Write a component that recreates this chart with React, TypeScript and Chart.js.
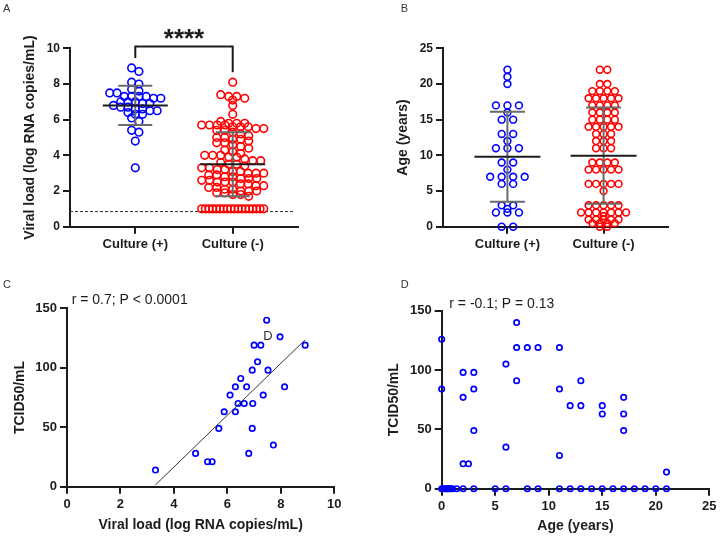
import React, { useEffect, useRef } from 'react';
import { Chart, registerables } from 'chart.js';

Chart.register(...registerables);

const FONT = "'Liberation Sans', Arial, Helvetica, sans-serif";
const INK = '#1c1c1c';
const BLUE = '#0000ff';
const RED = '#ff0000';

// ---------------- Data ----------------
const groupLabels = ['Culture (+)', 'Culture (-)'];

// Panel A: viral load (log RNA copies/mL)
const viralLoadCulturePos = [8.9, 8.7, 8.1, 8.0, 7.7, 7.6, 7.5, 7.5, 7.3, 7.3, 7.3, 7.3, 7.2, 7.2, 7.0, 7.0, 7.0, 6.9, 6.9, 6.8, 6.7, 6.7, 6.6, 6.6, 6.5, 6.5, 6.4, 6.3, 6.3, 6.1, 5.9, 5.4, 5.3, 4.8, 3.3];
const viralLoadCultureNeg = [
  8.1, 7.4, 7.3, 7.3, 7.2, 7.1, 6.8, 6.3,
  5.9, 5.8, 5.8, 5.8, 5.7, 5.7, 5.7, 5.7, 5.6, 5.6, 5.6, 5.5, 5.5, 5.4, 5.4, 5.3,
  5.2, 5.1, 5.0, 5.0, 4.9, 4.9, 4.8, 4.7, 4.7, 4.6, 4.5, 4.4, 4.3, 4.2,
  4.1, 4.0, 4.0, 4.0, 3.9, 3.9, 3.8, 3.7, 3.7, 3.6, 3.5, 3.5, 3.4, 3.3, 3.3,
  3.2, 3.2, 3.1, 3.1, 3.0, 3.0, 3.0, 2.9, 2.9, 2.8, 2.8, 2.7, 2.7, 2.7, 2.6, 2.6, 2.5, 2.5, 2.5, 2.4, 2.4,
  2.3, 2.3, 2.2, 2.2, 2.1, 2.1, 2.0, 2.0, 2.0, 1.9, 1.9, 1.8, 1.8, 1.7,
  1.0, 1.0, 1.0, 1.0, 1.0, 1.0, 1.0, 1.0, 1.0, 1.0, 1.0, 1.0, 1.0, 1.0, 1.0, 1.0, 1.0, 1.0,
];
const viralLoadMean = [6.8, 3.5];
const viralLoadSD = [1.1, 1.8];
const viralLoadDetectionLimit = 0.85;
const bracketLevel = 10.1;
const significanceLabel = '****';

// Panel B: age (years)
const ageCulturePos = [22, 21, 20, 17, 17, 17, 16, 15, 15, 13, 13, 12, 11, 11, 11, 9, 9, 8, 7, 7, 7, 7, 6, 6, 3, 3, 2.5, 2, 2, 2, 0, 0];
const ageCultureNeg = [
  22, 22, 20, 20, 19, 19, 19, 19, 18, 18, 18, 18, 18, 17, 17, 17, 17, 16, 16, 16, 16,
  15, 15, 15, 15, 14, 14, 14, 14, 14, 13, 13, 13, 12, 12, 12, 11, 11, 11,
  9, 9, 9, 9, 8, 8, 8, 8, 8, 6, 6, 6, 6, 6, 5, 3, 3, 3, 3, 3,
  2, 2, 2, 2, 2, 2, 2, 1.5, 1, 1, 1, 1, 1, 0.5, 0.5, 0.5, 0.5, 0, 0,
];
const ageMean = [9.8, 9.95];
const ageSD = [6.3, 6.75];

// Panel C: TCID50/mL vs viral load
const tcidViralLoad = [3.31, 4.81, 5.26, 5.43, 5.68, 5.88, 6.10, 6.30, 6.30, 6.40, 6.50, 6.63, 6.72, 6.80, 6.93, 6.93, 6.95, 7.00, 7.13, 7.25, 7.34, 7.47, 7.52, 7.72, 7.97, 8.14, 8.91];
const tcidByViralLoad = [14, 28, 21, 21, 49, 63, 77, 84, 63, 70, 91, 70, 84, 28, 98, 49, 70, 119, 105, 119, 77, 140, 98, 35, 126, 84, 119];
const corrTextViral = 'r = 0.7; P < 0.0001';
const strayLabel = { text: 'D', x: 7.34, y: 123 };

// Panel D: TCID50/mL vs age
const tcidAge = [
  0, 0, 2, 2, 2, 2.5, 3, 3, 3, 6, 6, 7, 7, 7, 8, 9, 11, 11, 11, 12, 13, 13, 15, 15, 17, 17, 17, 21,
  0, 0.1, 0.25, 0.4, 0.5, 0.6, 0.75, 0.9, 1.0, 1.4, 2, 3, 5, 6, 8, 9, 11, 12, 13, 14, 15, 16, 17, 18, 19, 20, 21,
];
const tcidByAge = [
  126, 84, 98, 77, 21, 21, 98, 84, 49, 105, 35, 140, 119, 91, 119, 119, 119, 84, 28, 70, 91, 70, 70, 63, 77, 63, 49, 14,
  0, 0, 0, 0, 0, 0, 0, 0, 0, 0, 0, 0, 0, 0, 0, 0, 0, 0, 0, 0, 0, 0, 0, 0, 0, 0, 0,
];
const corrTextAge = 'r = -0.1; P = 0.13';

// ---------------- Helpers ----------------
function fixAxis(size: number, vertical: boolean) {
  return (s: any) => {
    if (vertical) s.width = size;
    else s.height = size;
    s.paddingLeft = 0;
    s.paddingRight = 0;
    s.paddingTop = 0;
    s.paddingBottom = 0;
  };
}

function axisStyle(tickSize: number) {
  return {
    border: { display: true, color: INK, width: 2 },
    grid: {
      display: true,
      drawOnChartArea: false,
      drawTicks: true,
      tickLength: 7,
      tickColor: INK,
      tickWidth: 2,
      color: INK,
      lineWidth: 2,
    },
    ticks: {
      color: INK,
      font: { family: FONT, size: tickSize, weight: 'bold' },
      padding: 3,
      maxRotation: 0,
      autoSkip: false,
    },
  };
}

function text(ctx: CanvasRenderingContext2D, t: string, x: number, y: number, font: string, color: string, align: CanvasTextAlign = 'left') {
  ctx.save();
  ctx.font = font;
  ctx.fillStyle = color;
  ctx.textAlign = align;
  ctx.textBaseline = 'alphabetic';
  ctx.fillText(t, x, y);
  ctx.restore();
}

function drawMeanSD(chart: any, means: number[], sds: number[], meanHalf: number, capHalf: number) {
  const { ctx, scales } = chart;
  const x = scales.x, y = scales.y;
  ctx.save();
  means.forEach((m, i) => {
    const cx = x.getPixelForValue(i + 1);
    const top = y.getPixelForValue(m + sds[i]);
    const bot = y.getPixelForValue(m - sds[i]);
    const my = y.getPixelForValue(m);
    ctx.strokeStyle = '#6a6a6a';
    ctx.lineWidth = 2;
    ctx.beginPath();
    ctx.moveTo(cx, top); ctx.lineTo(cx, bot);
    ctx.moveTo(cx - capHalf, top); ctx.lineTo(cx + capHalf, top);
    ctx.moveTo(cx - capHalf, bot); ctx.lineTo(cx + capHalf, bot);
    ctx.stroke();
    ctx.strokeStyle = INK;
    ctx.beginPath();
    ctx.moveTo(cx - meanHalf, my); ctx.lineTo(cx + meanHalf, my);
    ctx.stroke();
  });
  ctx.restore();
}

// Column scatter: points binned in rows and spread symmetrically
const swarmPlugin = {
  id: 'swarm',
  afterDatasetsUpdate(chart: any) {
    chart.data.datasets.forEach((ds: any, di: number) => {
      const sw = ds.swarm;
      if (!sw) return;
      const meta = chart.getDatasetMeta(di);
      const bins = new Map<number, number[]>();
      ds.data.forEach((p: any, i: number) => {
        const k = Math.round(p.y / sw.bin);
        if (!bins.has(k)) bins.set(k, []);
        bins.get(k)!.push(i);
      });
      bins.forEach((idx) => {
        const n = idx.length;
        const s = n > 1 ? Math.min(sw.spacing, sw.maxWidth / (n - 1)) : 0;
        idx.forEach((i, j) => {
          const el = meta.data[i];
          if (el) el.x += (j - (n - 1) / 2) * s;
        });
      });
    });
  },
};

function columnDatasets(pos: number[], neg: number[], radius: number, bw: number, swPos: any, swNeg: any) {
  return [
    {
      data: pos.map((v) => ({ x: 1, y: v })),
      borderColor: BLUE, backgroundColor: 'rgba(0,0,0,0)', pointRadius: radius, pointBorderWidth: bw,
      clip: false, swarm: swPos,
    },
    {
      data: neg.map((v) => ({ x: 2, y: v })),
      borderColor: RED, backgroundColor: 'rgba(0,0,0,0)', pointRadius: radius, pointBorderWidth: bw,
      clip: false, swarm: swNeg,
    },
  ];
}

function baseOptions(padding: any, x: any, y: any) {
  return {
    responsive: false,
    animation: false,
    events: [],
    layout: { padding },
    plugins: { legend: { display: false }, tooltip: { enabled: false }, title: { display: false } },
    scales: { x, y },
  };
}

function categoryX(width: number) {
  const st = axisStyle(13);
  return {
    type: 'linear', min: 0.33, max: 2.67,
    ...st,
    ticks: { ...st.ticks, callback: (v: number) => groupLabels[Math.round(v) - 1] },
    afterBuildTicks: (s: any) => { s.ticks = [{ value: 1 }, { value: 2 }]; },
    afterFit: fixAxis(width, false),
  };
}

function letterPlugin(letter: string, x: number, y: number) {
  return {
    id: 'letter' + letter,
    afterDraw(chart: any) {
      text(chart.ctx, letter, x, y, `11px ${FONT}`, '#333333');
    },
  };
}

// ---------------- Chart builders ----------------
function buildA() {
  const yStyle = axisStyle(12);
  const decor = {
    id: 'decorA',
    beforeDatasetsDraw(chart: any) {
      const { ctx, chartArea, scales } = chart;
      const py = scales.y.getPixelForValue(viralLoadDetectionLimit);
      ctx.save();
      ctx.strokeStyle = '#333';
      ctx.lineWidth = 1;
      ctx.setLineDash([3, 2]);
      ctx.beginPath();
      ctx.moveTo(chartArea.left, py);
      ctx.lineTo(chartArea.right - 5, py);
      ctx.stroke();
      ctx.restore();
    },
    afterDatasetsDraw(chart: any) {
      const { ctx, scales } = chart;
      drawMeanSD(chart, viralLoadMean, viralLoadSD, 32.5, 17);
      const xl = scales.x.getPixelForValue(1);
      const xr = scales.x.getPixelForValue(2);
      const by = scales.y.getPixelForValue(bracketLevel);
      const lEnd = scales.y.getPixelForValue(Math.max(...viralLoadCulturePos)) - 10;
      const rEnd = scales.y.getPixelForValue(Math.max(...viralLoadCultureNeg)) - 10;
      ctx.save();
      ctx.strokeStyle = INK;
      ctx.lineWidth = 2;
      ctx.beginPath();
      ctx.moveTo(xl, lEnd); ctx.lineTo(xl, by); ctx.lineTo(xr, by); ctx.lineTo(xr, rEnd);
      ctx.stroke();
      ctx.font = `bold 26px ${FONT}`;
      const m = ctx.measureText(significanceLabel);
      const base = by - 12.7 + (m.actualBoundingBoxAscent - m.actualBoundingBoxDescent) / 2;
      ctx.fillStyle = INK;
      ctx.textAlign = 'center';
      ctx.fillText(significanceLabel, (xl + xr) / 2, base);
      ctx.restore();
    },
  };
  return {
    type: 'scatter',
    data: {
      datasets: columnDatasets(viralLoadCulturePos, viralLoadCultureNeg, 3.8, 1.6,
        { bin: 0.35, spacing: 7.3, maxWidth: 54 }, { bin: 0.35, spacing: 8, maxWidth: 62 }),
    },
    options: baseOptions(
      { left: 0, top: 48.3, right: 62, bottom: 0 },
      categoryX(33.3),
      {
        type: 'linear', min: 0, max: 10,
        ...yStyle,
        ticks: { ...yStyle.ticks, stepSize: 2 },
        title: { display: true, text: 'Viral load (log RNA copies/mL)', color: INK, font: { family: FONT, size: 14, weight: 'bold' }, padding: { top: 21.6, bottom: 0 } },
        afterFit: fixAxis(70, true),
      }
    ),
    plugins: [swarmPlugin, decor, letterPlugin('A', 3, 11.7)],
  };
}

function buildB() {
  const yStyle = axisStyle(12);
  const decor = {
    id: 'decorB',
    afterDatasetsDraw(chart: any) {
      drawMeanSD(chart, ageMean, ageSD, 33, 17.5);
    },
  };
  return {
    type: 'scatter',
    data: {
      datasets: columnDatasets(ageCulturePos, ageCultureNeg, 3.4, 1.6,
        { bin: 0.5, spacing: 11.5, maxWidth: 60 }, { bin: 0.5, spacing: 7.5, maxWidth: 62 }),
    },
    options: baseOptions(
      { left: 0, top: 48.3, right: 52, bottom: 0 },
      categoryX(33.3),
      {
        type: 'linear', min: 0, max: 25,
        ...yStyle,
        ticks: { ...yStyle.ticks, stepSize: 5 },
        title: { display: true, text: 'Age (years)', color: INK, font: { family: FONT, size: 14, weight: 'bold' }, padding: { top: 34.6, bottom: 0 } },
        afterFit: fixAxis(83, true),
      }
    ),
    plugins: [swarmPlugin, decor, letterPlugin('B', 40.7, 11.7)],
  };
}

function buildC() {
  const xs = axisStyle(13);
  const ys = axisStyle(13);
  const decor = {
    id: 'decorC',
    afterDatasetsDraw(chart: any) {
      const { ctx, scales } = chart;
      const n = tcidViralLoad.length;
      const mx = tcidViralLoad.reduce((a, b) => a + b, 0) / n;
      const my = tcidByViralLoad.reduce((a, b) => a + b, 0) / n;
      let sxy = 0, sxx = 0;
      for (let i = 0; i < n; i++) {
        sxy += (tcidViralLoad[i] - mx) * (tcidByViralLoad[i] - my);
        sxx += (tcidViralLoad[i] - mx) ** 2;
      }
      const slope = sxy / sxx;
      const icpt = my - slope * mx;
      const x0 = Math.min(...tcidViralLoad), x1 = Math.max(...tcidViralLoad);
      ctx.save();
      ctx.strokeStyle = '#333';
      ctx.lineWidth = 1;
      ctx.beginPath();
      ctx.moveTo(scales.x.getPixelForValue(x0), scales.y.getPixelForValue(icpt + slope * x0));
      ctx.lineTo(scales.x.getPixelForValue(x1), scales.y.getPixelForValue(icpt + slope * x1));
      ctx.stroke();
      ctx.restore();
      text(ctx, strayLabel.text, scales.x.getPixelForValue(strayLabel.x), scales.y.getPixelForValue(strayLabel.y), `13px ${FONT}`, '#333333');
      text(ctx, corrTextViral, 71.7, 43.5, `14px ${FONT}`, INK);
    },
  };
  return {
    type: 'scatter',
    data: {
      datasets: [{
        data: tcidViralLoad.map((v, i) => ({ x: v, y: tcidByViralLoad[i] })),
        borderColor: BLUE, backgroundColor: 'rgba(0,0,0,0)', pointRadius: 2.7, pointBorderWidth: 1.7, clip: false,
      }],
    },
    options: baseOptions(
      { left: 0, top: 48.3, right: 25.7, bottom: 0 },
      {
        type: 'linear', min: 0, max: 10,
        ...xs,
        ticks: { ...xs.ticks, stepSize: 2 },
        title: { display: true, text: 'Viral load (log RNA copies/mL)', color: INK, font: { family: FONT, size: 14, weight: 'bold' }, padding: { top: 0, bottom: 5.6 } },
        afterFit: fixAxis(52.3, false),
      },
      {
        type: 'linear', min: 0, max: 150,
        ...ys,
        ticks: { ...ys.ticks, stepSize: 50 },
        title: { display: true, text: 'TCID50/mL', color: INK, font: { family: FONT, size: 14, weight: 'bold' }, padding: { top: 11.6, bottom: 0 } },
        afterFit: fixAxis(67, true),
      }
    ),
    plugins: [decor, letterPlugin('C', 3, 28.3)],
  };
}

function buildD() {
  const xs = axisStyle(13);
  const ys = axisStyle(13);
  const decor = {
    id: 'decorD',
    afterDatasetsDraw(chart: any) {
      text(chart.ctx, corrTextAge, 89.3, 48.3, `14px ${FONT}`, INK);
    },
  };
  return {
    type: 'scatter',
    data: {
      datasets: [{
        data: tcidAge.map((v, i) => ({ x: v, y: tcidByAge[i] })),
        borderColor: BLUE, backgroundColor: 'rgba(0,0,0,0)', pointRadius: 2.7, pointBorderWidth: 1.7, clip: false,
      }],
    },
    options: baseOptions(
      { left: 0, top: 50.7, right: 10.7, bottom: 0 },
      {
        type: 'linear', min: 0, max: 25,
        ...xs,
        ticks: { ...xs.ticks, stepSize: 5 },
        title: { display: true, text: 'Age (years)', color: INK, font: { family: FONT, size: 14, weight: 'bold' }, padding: { top: 0, bottom: 4.1 } },
        afterFit: fixAxis(50.3, false),
      },
      {
        type: 'linear', min: 0, max: 150,
        ...ys,
        ticks: { ...ys.ticks, stepSize: 50 },
        title: { display: true, text: 'TCID50/mL', color: INK, font: { family: FONT, size: 14, weight: 'bold' }, padding: { top: 25.6, bottom: 0 } },
        afterFit: fixAxis(81.7, true),
      }
    ),
    plugins: [decor, letterPlugin('D', 40.7, 28.3)],
  };
}

function Panel(props: { left: number; top: number; width: number; height: number; build: () => any }) {
  const ref = useRef<HTMLCanvasElement>(null);
  useEffect(() => {
    const chart = new Chart(ref.current as HTMLCanvasElement, props.build());
    return () => chart.destroy();
  }, []);
  return (
    <canvas
      ref={ref}
      width={props.width}
      height={props.height}
      style={{ position: 'absolute', left: props.left, top: props.top, width: props.width, height: props.height }}
    />
  );
}

export default function App() {
  return (
    <div style={{ position: 'absolute', left: 0, top: 0, width: 720, height: 539, background: '#ffffff' }}>
      <Panel left={0} top={0} width={360} height={260} build={buildA} />
      <Panel left={360} top={0} width={360} height={260} build={buildB} />
      <Panel left={0} top={260} width={360} height={279} build={buildC} />
      <Panel left={360} top={260} width={360} height={279} build={buildD} />
    </div>
  );
}
